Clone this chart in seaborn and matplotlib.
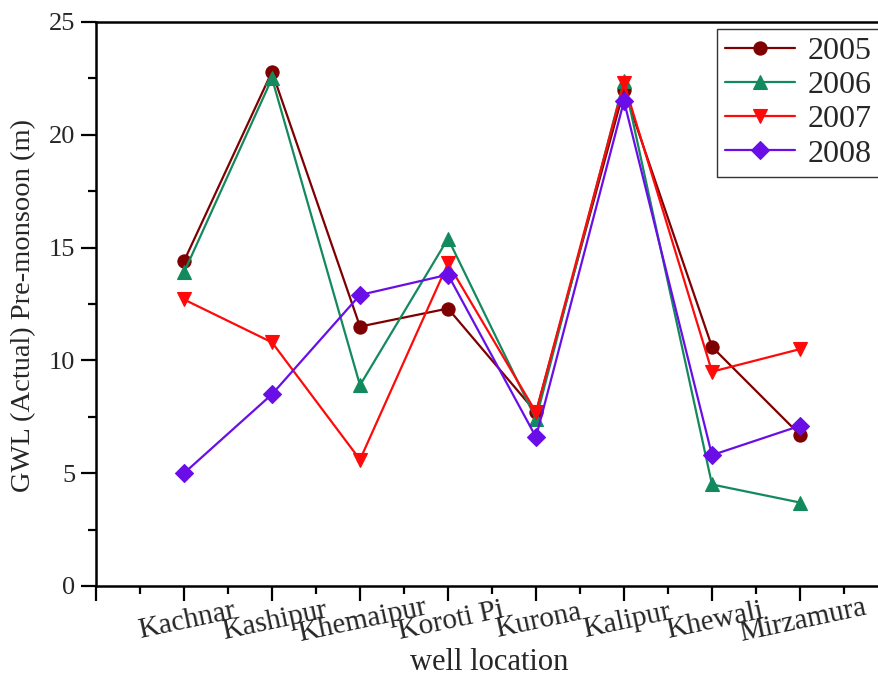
import numpy as np
import pandas as pd
import seaborn as sns
import matplotlib.pyplot as plt
from matplotlib.ticker import MultipleLocator

# Well locations and pre-monsoon groundwater levels (m)
locations = ["Kachnar", "Kashipur", "Khemaipur", "Koroti Pi",
             "Kurona", "Kalipur", "Khewali", "Mirzamura"]
gwl_2005 = [14.4, 22.8, 11.5, 12.3, 7.7, 22.0, 10.6, 6.7]
gwl_2006 = [13.9, 22.5, 8.9, 15.4, 7.4, 22.4, 4.5, 3.7]
gwl_2007 = [12.7, 10.8, 5.6, 14.3, 7.7, 22.3, 9.5, 10.5]
gwl_2008 = [5.0, 8.5, 12.9, 13.8, 6.6, 21.5, 5.8, 7.1]
years = ["2005", "2006", "2007", "2008"]

series = dict(zip(years, [gwl_2005, gwl_2006, gwl_2007, gwl_2008]))
df = pd.DataFrame({
    "loc": np.tile(np.arange(len(locations)), len(years)),
    "year": np.repeat(years, len(locations)),
    "gwl": np.concatenate([series[y] for y in years]),
})

palette = {"2005": "#7f0000", "2006": "#138a5e", "2007": "#ff0a0a", "2008": "#6a0ee8"}
markers = {"2005": "o", "2006": "^", "2007": "v", "2008": "D"}

sns.set_theme(style="white")
plt.rcParams["font.family"] = ["Liberation Serif", "DejaVu Serif"]

fig = plt.figure(figsize=(8.79, 6.81), dpi=100)
ax = fig.add_axes([96 / 879, 95 / 681, 792 / 879, 564 / 681])

sns.lineplot(data=df, x="loc", y="gwl", hue="year", style="year",
             palette=palette, markers=markers, dashes=False,
             markersize=9.5, linewidth=1.6, markeredgewidth=0.8,
             ax=ax)

# solid markers: edge in the same colour as the face
for line in ax.get_lines():
    line.set_markeredgecolor(line.get_color())

ax.set_xlim(-1, 8)
ax.set_ylim(0, 25)
ax.xaxis.set_minor_locator(MultipleLocator(0.5))
ax.yaxis.set_minor_locator(MultipleLocator(2.5))

ticks = np.arange(-1, 9)
ax.set_xticks(ticks)
ax.set_xticklabels([""] + locations + [""], rotation=12, ha="center",
                   rotation_mode="anchor", fontsize=21)
ax.set_yticks([0, 5, 10, 15, 20, 25])
ax.set_yticklabels(["0", "5", "10", "15", "20", "25"], fontsize=19)

ax.tick_params(axis="both", which="both", bottom=True, left=True,
               top=False, right=False, direction="out", color="black",
               width=1.6)
ax.tick_params(axis="both", which="major", length=11)
ax.tick_params(axis="both", which="minor", length=6)
ax.tick_params(axis="y", which="major", pad=4)
ax.tick_params(axis="x", which="major", pad=5)

for side in ["left", "bottom", "top"]:
    ax.spines[side].set_visible(True)
    ax.spines[side].set_linewidth(1.8)
    ax.spines[side].set_color("black")
ax.spines["right"].set_visible(False)

ax.set_xlabel("well location", fontsize=22, va="center")
ax.xaxis.set_label_coords((489 - 96) / 792, (586 - 663) / 564)
ax.set_ylabel("GWL (Actual) Pre-monsoon (m)", fontsize=20.5, va="center")
ax.yaxis.set_label_coords((24 - 96) / 792, (586 - 306) / 564)

leg = ax.legend(loc="upper left", bbox_to_anchor=((717 - 96) / 792, 0.988),
                fontsize=23, frameon=True, fancybox=False,
                handlelength=2.2, handletextpad=0.4, borderpad=0.25,
                labelspacing=0.15, borderaxespad=0)
leg.get_frame().set_edgecolor("#333333")
leg.get_frame().set_linewidth(1.0)
leg.get_frame().set_alpha(1)
for h in leg.legend_handles:
    h.set_markeredgecolor(h.get_color())

fig.savefig("out.png", dpi=100)
